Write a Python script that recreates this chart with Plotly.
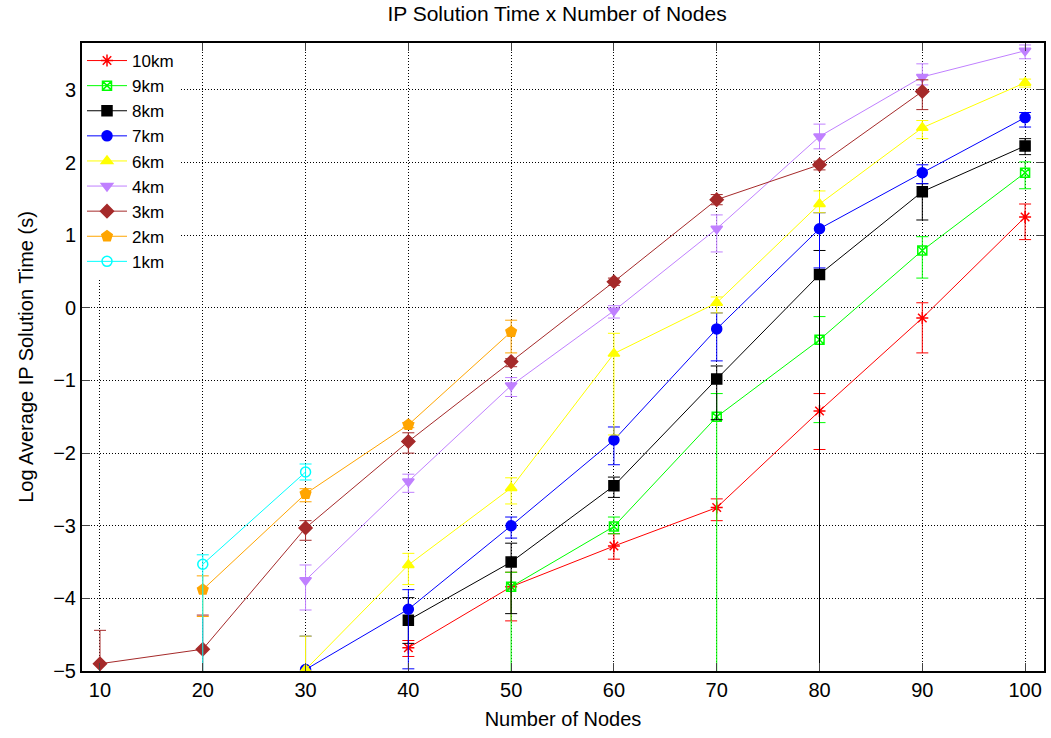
import numpy as np
import plotly.graph_objects as go

NODES = [10, 20, 30, 40, 50, 60, 70, 80, 90, 100]
N = None
BOTTOM = -6.0  # error bars that run below the plot floor

km10    = [N, N, N, -4.68, -3.84, -3.28, -2.75, -1.42, -0.14, 1.25]
km10_hi = [N, N, N, -4.58, -3.64, -3.11, -2.63, -1.18, 0.07, 1.43]
km10_lo = [N, N, N, -4.80, -4.31, -3.46, -2.93, -1.95, -0.62, 0.94]

km9    = [N, N, N, N, -3.84, -3.01, -1.50, -0.44, 0.79, 1.86]
km9_hi = [N, N, N, N, -3.64, -2.88, -1.18, -0.12, 0.98, 2.01]
km9_lo = [N, N, N, N, BOTTOM, -3.11, BOTTOM, -1.58, 0.41, 1.64]

km8    = [N, N, N, -4.30, -3.50, -2.45, -0.98, 0.46, 1.60, 2.23]
km8_hi = [N, N, N, -3.99, -3.24, -2.33, -0.80, 0.79, 1.71, 2.33]
km8_lo = [N, N, N, -4.62, -4.21, -2.61, -1.54, BOTTOM, 1.21, 2.11]

km7    = [N, N, -4.98, -4.15, -3.00, -1.82, -0.29, 1.09, 1.86, 2.62]
km7_hi = [N, N, -4.52, -3.88, -2.88, -1.64, -0.07, 1.31, 1.97, 2.69]
km7_lo = [N, N, BOTTOM, -4.97, -3.17, -2.16, -0.73, 0.55, 1.71, 2.49]

km6    = [N, N, -4.98, -3.54, -2.48, -0.63, 0.07, 1.43, 2.48, 3.10]
km6_hi = [N, N, -4.52, -3.38, -2.34, -0.35, 0.15, 1.61, 2.58, 3.15]
km6_lo = [N, N, BOTTOM, -3.81, -2.70, -1.75, -0.07, 1.31, 2.33, 3.04]

km4    = [N, N, -3.75, -2.39, -1.07, -0.04, 1.09, 2.36, 3.18, 3.54]
km4_hi = [N, N, -3.54, -2.29, -0.96, 0.03, 1.28, 2.53, 3.36, 3.62]
km4_lo = [N, N, -4.16, -2.54, -1.22, -0.14, 0.77, 2.19, 3.07, 3.43]

km3    = [-4.90, -4.70, -3.03, -1.84, -0.74, 0.36, 1.49, 1.97, 2.98, N]
km3_hi = [-4.44, -4.23, -2.93, -1.72, -0.70, 0.41, 1.56, 2.02, 3.14, N]
km3_lo = [BOTTOM, BOTTOM, -3.20, -2.00, -0.81, 0.31, 1.42, 1.90, 2.73, N]

km2    = [N, -3.88, -2.56, -1.61, -0.33, N, N, N, N, N]
km2_hi = [N, -3.69, -2.49, -1.58, -0.17, N, N, N, N, N]
km2_lo = [N, -4.25, -2.67, -1.65, -0.62, N, N, N, N, N]

km1    = [N, -3.53, -2.26, N, N, N, N, N, N, N]
km1_hi = [N, -3.40, -2.15, N, N, N, N, N, N, N]
km1_lo = [N, BOTTOM, -2.37, N, N, N, N, N, N, N]

SERIES = [
    ("10km", km10, km10_hi, km10_lo, "#ff0000", "asterisk-open", 10),
    ("9km", km9, km9_hi, km9_lo, "#00ff00", "square-x-open", 9),
    ("8km", km8, km8_hi, km8_lo, "#000000", "square", 10),
    ("7km", km7, km7_hi, km7_lo, "#0000ff", "circle", 10),
    ("6km", km6, km6_hi, km6_lo, "#ffff00", "triangle-up", 10),
    ("4km", km4, km4_hi, km4_lo, "#c080ff", "triangle-down", 10),
    ("3km", km3, km3_hi, km3_lo, "#a52a2a", "diamond", 10),
    ("2km", km2, km2_hi, km2_lo, "#ffa500", "pentagon", 11),
    ("1km", km1, km1_hi, km1_lo, "#00ffff", "circle-open", 10),
]

FONT = "Liberation Sans, Arial, Helvetica, sans-serif"


def arr(v):
    return np.array([np.nan if a is None else a for a in v], dtype=float)


fig = go.Figure()
for name, vals, hi, lo, color, sym, size in SERIES:
    y = arr(vals)
    plus = arr(hi) - y
    minus = y - arr(lo)
    mask = ~np.isnan(y)
    x = np.array(NODES)[mask]
    fig.add_trace(go.Scatter(
        x=x, y=y[mask], name=name, mode="lines+markers",
        line=dict(color=color, width=1),
        marker=dict(symbol=sym, size=size, color=color,
                    line=dict(color=color, width=1.5)),
        error_y=dict(type="data", symmetric=False,
                     array=plus[mask], arrayminus=minus[mask],
                     color=color, thickness=1, width=6),
        cliponaxis=True,
    ))

fig.update_layout(
    width=1051, height=738,
    margin=dict(l=82, r=5, t=43, b=67),
    paper_bgcolor="white", plot_bgcolor="white",
    font=dict(family=FONT, size=20, color="black"),
    title=dict(text="IP Solution Time x Number of Nodes", x=0.53, xanchor="center",
               y=0.982, yanchor="middle", font=dict(size=21)),
    legend=dict(x=0.0, y=1.0, xanchor="left", yanchor="top",
                bgcolor="white", borderwidth=0, font=dict(size=17),
                tracegroupgap=0, itemwidth=40),
    showlegend=True,
)
fig.update_xaxes(
    range=[8.25, 101.84], tickvals=NODES, ticks="inside", ticklen=8,
    showline=True, linecolor="black", linewidth=2, mirror="allticks",
    showgrid=True, gridcolor="black", gridwidth=1, griddash="1px,2px",
    zeroline=False, tickfont=dict(size=20),
    title=dict(text="Number of Nodes", font=dict(size=20), standoff=12),
)
fig.update_yaxes(
    range=[-5, 3.647], tickvals=[-5, -4, -3, -2, -1, 0, 1, 2, 3],
    ticks="inside", ticklen=8,
    showline=True, linecolor="black", linewidth=2, mirror="allticks",
    showgrid=True, gridcolor="black", gridwidth=1, griddash="1px,2px",
    zeroline=False, tickfont=dict(size=20),
    title=dict(text="Log Average IP Solution Time (s)", font=dict(size=20), standoff=14),
)

fig.write_html("out.html")
